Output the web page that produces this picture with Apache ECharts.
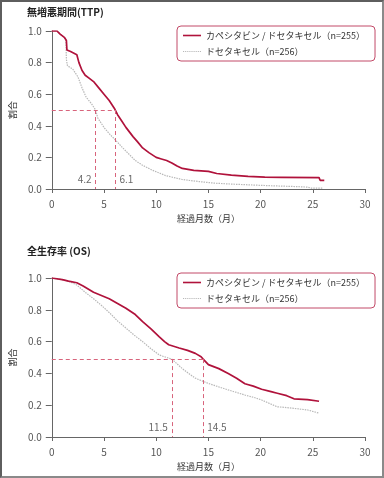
<!DOCTYPE html>
<html>
<head>
<meta charset="utf-8">
<script src="https://cdn.jsdelivr.net/npm/echarts@6/dist/echarts.min.js"></script>
<style>
html,body{margin:0;padding:0;background:#fff;}
#frame{position:absolute;left:0;top:0;width:384px;height:478px;box-sizing:border-box;border:2px solid #5e5e5e;border-right-color:#8a8a8a;border-bottom-color:#8a8a8a;}
#chart{position:absolute;left:0;top:0;width:384px;height:478px;}
</style>
</head>
<body>
<div id="chart"></div>
<div id="frame"></div>
<script>
// ---- data ----
const titleTTP = '無増悪期間(TTP)';
const titleOS = '全生存率 (OS)';
const nameCombo = 'カペシタビン / ドセタキセル（n=255）';
const nameDoc = 'ドセタキセル（n=256）';
const xTicks = [0, 5, 10, 15, 20, 25, 30];
const yTicks = [0, 0.2, 0.4, 0.6, 0.8, 1.0];

const ttpCombo = [[0,1.0],[0.5,1.0],[0.8,0.98],[1.2,0.96],[1.4,0.94],[1.45,0.88],[1.8,0.87],[2.4,0.85],[2.6,0.80],[2.9,0.75],[3.2,0.72],[3.6,0.70],[4.0,0.68],[4.5,0.64],[5.0,0.60],[5.5,0.56],[6.0,0.51],[6.3,0.47],[6.7,0.43],[7.1,0.39],[7.8,0.33],[8.2,0.30],[8.7,0.26],[9.3,0.23],[10.0,0.20],[10.5,0.19],[11.0,0.18],[11.5,0.165],[12.0,0.145],[12.5,0.13],[13.6,0.118],[15.0,0.112],[15.8,0.098],[17.2,0.088],[18.8,0.08],[20.4,0.075],[22.0,0.074],[25.6,0.072],[25.7,0.055],[26.1,0.055]];
const ttpDoc = [[0,1.0],[0.5,1.0],[0.8,0.98],[1.2,0.96],[1.35,0.94],[1.4,0.82],[1.5,0.78],[2.0,0.76],[2.5,0.71],[2.9,0.64],[3.3,0.58],[3.8,0.54],[4.2,0.50],[4.4,0.45],[4.7,0.42],[5.0,0.39],[5.5,0.35],[6.1,0.31],[6.8,0.26],[7.4,0.22],[8.0,0.18],[8.7,0.15],[9.6,0.12],[10.9,0.085],[12.5,0.06],[14.1,0.047],[15.6,0.037],[17.2,0.031],[20.4,0.022],[23.5,0.015],[24.5,0.012],[24.8,0.006],[26.0,0.006]];
const osCombo = [[0,1.0],[1.0,0.99],[1.6,0.98],[2.4,0.97],[3.0,0.95],[4.0,0.91],[5.5,0.87],[6.3,0.84],[7.1,0.81],[8.0,0.77],[8.7,0.725],[9.5,0.68],[10.3,0.63],[10.8,0.60],[11.2,0.58],[12.2,0.56],[13.0,0.545],[13.75,0.526],[14.3,0.505],[14.5,0.49],[15.0,0.455],[16.0,0.43],[16.9,0.40],[17.7,0.37],[18.5,0.335],[19.3,0.32],[20.1,0.30],[21.0,0.285],[21.6,0.275],[22.5,0.26],[23.2,0.24],[24.5,0.235],[25.6,0.225]];
const osDoc = [[0,1.0],[1.0,0.99],[1.6,0.98],[2.4,0.956],[3.2,0.91],[4.0,0.87],[4.8,0.825],[5.55,0.78],[6.3,0.73],[7.1,0.685],[7.9,0.64],[8.7,0.60],[9.5,0.555],[10.3,0.516],[11.0,0.50],[11.5,0.49],[12.0,0.46],[12.5,0.43],[13.1,0.40],[13.75,0.37],[14.5,0.35],[15.0,0.337],[16.0,0.315],[16.9,0.296],[17.7,0.28],[18.5,0.264],[19.3,0.25],[20.1,0.233],[20.9,0.21],[21.6,0.19],[22.5,0.185],[23.2,0.18],[24.5,0.17],[25.6,0.15]];

const ttpMedians = [4.2, 6.1];
const ttpMedianY = 0.5;
const osMedians = [11.5, 14.5];
const osMedianY = 0.49;
// ---- end data ----

const RED = '#b0123b';
const GRAY = '#b8b8b8';
const DASH = '#d8647c';
const AXC = '#666';
const TXT = '#555';
const FONT = '"Noto Sans CJK JP", "Noto Sans", sans-serif';

const ICON_SOLID = 'path://M0,0H18V1.6H0Z';
let dots = '';
for (let x = 0; x < 18; x += 2.2) dots += 'M' + x + ',0H' + (x + 1.2) + 'V1.2H' + x + 'Z';
const ICON_DOTS = 'path://' + dots;

function xAxis(gi) {
  return {
    type: 'value', gridIndex: gi, min: 0, max: 30, interval: 5,
    name: '経過月数（月）', nameLocation: 'middle', nameGap: 25,
    nameTextStyle: { color: '#333', fontSize: 9, fontFamily: FONT },
    axisLine: { lineStyle: { color: AXC, width: 1 } },
    axisTick: { length: 4, lineStyle: { color: AXC } },
    axisLabel: { color: TXT, fontSize: 10, margin: 10, fontFamily: FONT },
    splitLine: { show: false }
  };
}
function yAxis(gi) {
  return {
    type: 'value', gridIndex: gi, min: 0, max: 1, interval: 0.2,
    name: '割合', nameLocation: 'middle', nameGap: 33, nameRotate: 90,
    nameTextStyle: { color: '#333', fontSize: 9, fontFamily: FONT },
    axisLine: { show: true, lineStyle: { color: AXC, width: 1 } },
    axisTick: { show: true, length: 6, lineStyle: { color: AXC } },
    axisLabel: { color: TXT, fontSize: 10, margin: 10, fontFamily: FONT, formatter: v => v.toFixed(1) },
    splitLine: { show: false }
  };
}
function medianMarks(meds, my) {
  const maxM = Math.max(...meds);
  const d = [[{ coord: [0, my] }, { coord: [maxM, my] }]];
  meds.forEach(m => d.push([{ coord: [m, my] }, { coord: [m, 0] }]));
  return {
    silent: true, symbol: 'none', label: { show: false },
    lineStyle: { color: DASH, type: [4, 3], width: 1 },
    data: d
  };
}
function medianLabels(meds, gi) {
  return {
    type: 'scatter', xAxisIndex: gi, yAxisIndex: gi, symbolSize: 0, silent: true,
    data: meds.map((m, i) => ({
      value: [m, 0.06],
      label: { show: true, position: i === 0 ? 'left' : 'right', distance: 4,
        formatter: String(m.toFixed(1)), color: '#444', fontSize: 10, fontFamily: FONT }
    }))
  };
}
function curve(name, data, gi, isRed, marks) {
  const s = {
    type: 'line', name: name, xAxisIndex: gi, yAxisIndex: gi, data: data,
    symbol: 'none', showSymbol: false, smooth: false, z: isRed ? 4 : 3,
    lineStyle: isRed ? { color: RED, width: 1.7 } : { color: GRAY, width: 1.2, type: [1.5, 1] },
    itemStyle: { color: isRed ? RED : GRAY }
  };
  if (marks) s.markLine = marks;
  return s;
}
function legend(top) {
  return {
    orient: 'vertical', left: 177, top: top, itemWidth: 18, itemHeight: 11, itemGap: 7,
    padding: [5, 10, 5, 6],
    borderColor: '#c24a68', borderWidth: 1, borderRadius: 4,
    textStyle: { color: '#333', fontSize: 9, fontFamily: FONT },
    data: [{ name: nameCombo, icon: ICON_SOLID }, { name: nameDoc, icon: ICON_DOTS }]
  };
}

const chart = echarts.init(document.getElementById('chart'), null, { renderer: 'canvas' });
chart.setOption({
  animation: false,
  title: [
    { text: titleTTP, left: 22, top: 2, textStyle: { fontSize: 10, fontWeight: 'bold', color: '#222', fontFamily: FONT } },
    { text: titleOS, left: 22, top: 241, textStyle: { fontSize: 10, fontWeight: 'bold', color: '#222', fontFamily: FONT } }
  ],
  grid: [
    { left: 48, right: 19, top: 31, height: 158 },
    { left: 48, right: 19, top: 278, height: 159 }
  ],
  xAxis: [xAxis(0), xAxis(1)],
  yAxis: [yAxis(0), yAxis(1)],
  legend: [legend(26), legend(273)],
  series: [
    curve(nameDoc, ttpDoc, 0, false, null),
    curve(nameCombo, ttpCombo, 0, true, medianMarks(ttpMedians, ttpMedianY)),
    medianLabels(ttpMedians, 0),
    curve(nameDoc, osDoc, 1, false, null),
    curve(nameCombo, osCombo, 1, true, medianMarks(osMedians, osMedianY)),
    medianLabels(osMedians, 1)
  ]
});
</script>
</body>
</html>
